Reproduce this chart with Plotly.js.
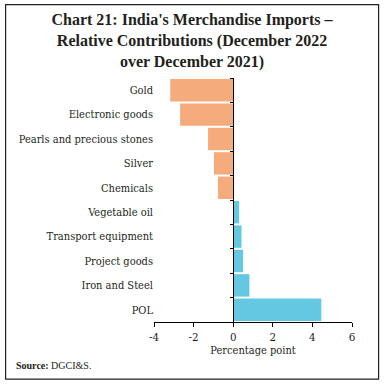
<!DOCTYPE html>
<html>
<head>
<meta charset="utf-8">
<script src="https://cdn.plot.ly/plotly-3.0.1.min.js"></script>
<style>html,body{margin:0;padding:0;background:#fff;}#chart{width:384px;height:384px;}</style>
</head>
<body>
<div id="chart"></div>
<script>
var categories = ["Gold","Electronic goods","Pearls and precious stones","Silver","Chemicals","Vegetable oil","Transport equipment","Project goods","Iron and Steel","POL"];
var values = [-3.18, -2.68, -1.27, -0.97, -0.77, 0.3, 0.42, 0.5, 0.82, 4.45];
var negColor = "#F5AB7C";
var posColor = "#64C8E3";
var xTicks = [-4, -2, 0, 2, 4, 6];

var W = 384, H = 384;
var mL = 153.5, mR = 31.7, mT = 78, mB = 61.7;
var pw = W - mL - mR, ph = H - mT - mB;
function px(x){ return (x - mL) / pw; }
function py(y){ return (H - mB - y) / ph; }

var font = "Liberation Serif, Times New Roman, serif";
var labelFont = "DejaVu Serif Condensed, Liberation Serif, serif";
var txt = "#231F20";

var trace = {
  type: "bar",
  orientation: "h",
  y: categories,
  x: values,
  marker: {color: values.map(function(v){ return v < 0 ? negColor : posColor; })},
  hoverinfo: "none"
};
var trace2 = {
  type: "bar", orientation: "h", y: categories, x: categories.map(function(){return null;}),
  yaxis: "y2", showlegend: false, hoverinfo: "none"
};

var layout = {
  width: W, height: H,
  margin: {l: mL, r: mR, t: mT, b: mB, pad: 0},
  paper_bgcolor: "#fff", plot_bgcolor: "#fff",
  showlegend: false,
  bargap: 0.08,
  font: {family: font, color: txt, size: 11},
  title: {
    text: "<b>Chart 21: India's Merchandise Imports –<br>Relative Contributions (December 2022<br>over December 2021)</b>",
    font: {family: font, size: 16, color: txt},
    x: 0.5, xanchor: "center", xref: "container",
    y: 1 - 25/H, yanchor: "top", yref: "container"
  },
  xaxis: {
    range: [-4, 6], tickvals: xTicks, ticktext: xTicks.map(String),
    showgrid: false, zeroline: false,
    showline: true, linecolor: "#000", linewidth: 1,
    ticks: "outside", ticklen: 4, tickcolor: "#000",
    tickfont: {family: labelFont, size: 11.5, color: txt},
    title: {text: "Percentage point", font: {family: labelFont, size: 11, color: txt}, standoff: 2},
    fixedrange: true
  },
  yaxis: {
    autorange: "reversed", type: "category",
    showgrid: false, zeroline: false, showline: false, ticks: "",
    tickfont: {family: labelFont, size: 11, color: txt},
    ticklabelstandoff: 0,
    fixedrange: true
  },
  yaxis2: {
    overlaying: "y", anchor: "free", position: 0.4, side: "left",
    autorange: "reversed", type: "category",
    showgrid: false, zeroline: false,
    showline: true, linecolor: "#000", linewidth: 1,
    ticks: "outside", tickson: "boundaries", ticklen: 3, tickcolor: "#000",
    showticklabels: false, fixedrange: true
  },
  shapes: [{
    type: "rect", xref: "paper", yref: "paper",
    x0: px(4.5), x1: px(379), y0: py(4.5), y1: py(379.5),
    line: {color: "#231F20", width: 1.2}, fillcolor: "rgba(0,0,0,0)", layer: "below"
  }],
  annotations: [{
    xref: "paper", yref: "paper", x: px(13), y: py(366),
    xanchor: "left", yanchor: "middle", showarrow: false,
    text: "<b>Source:</b> DGCI&S.",
    font: {family: font, size: 10, color: txt}
  }]
};

Plotly.newPlot("chart", [trace, trace2], layout, {displayModeBar: false, staticPlot: true});
</script>
</body>
</html>
